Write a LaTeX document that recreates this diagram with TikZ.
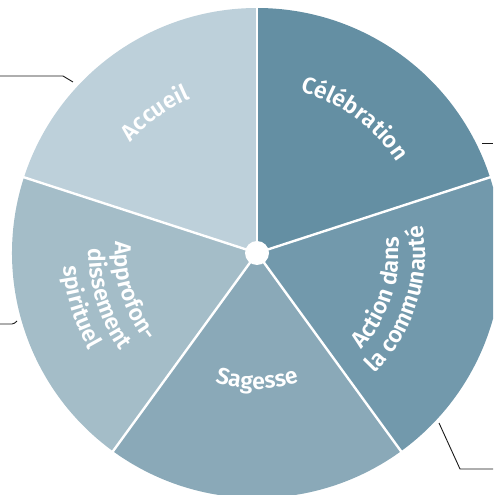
\documentclass[tikz,border=0pt]{standalone}
\usepackage{fontspec}
\setmainfont{Fira Sans}[BoldFont={Fira Sans SemiBold}]
\usetikzlibrary{decorations.text}
\definecolor{cAcc}{HTML}{BDD0DA}
\definecolor{cCel}{HTML}{648FA3}
\definecolor{cAct}{HTML}{7299AC}
\definecolor{cSag}{HTML}{8AA9B8}
\definecolor{cApp}{HTML}{A4BDC8}
\definecolor{leader}{HTML}{1A1A1A}
\newcommand\lblfont{\fontsize{23}{27}\selectfont\bfseries\color{white}}
\newcommand\arclabel[4]{%
  \path[decorate,decoration={text along path,text align=center,text={|\lblfont|#4}}]
    ([shift={(C)}]#1:#3) arc[start angle=#1,end angle=#2,radius=#3];}
\begin{document}
\begin{tikzpicture}[x=1pt,y=1pt,
  sep/.style={draw=white,line width=2.4pt},
  leaderline/.style={draw=leader,line width=0.9pt}]
\useasboundingbox (0,0) rectangle (493,495);
\clip (0,0) rectangle (493,495);
\coordinate (C) at (257,242);
\def\R{245}
% slices
\fill[cAcc] (C) -- ([shift={(C)}]90:\R) arc[start angle=90,end angle=162,radius=\R] -- cycle;
\fill[cApp] (C) -- ([shift={(C)}]162:\R) arc[start angle=162,end angle=234,radius=\R] -- cycle;
\fill[cSag] (C) -- ([shift={(C)}]234:\R) arc[start angle=234,end angle=306,radius=\R] -- cycle;
\fill[cAct] (C) -- ([shift={(C)}]306:\R) arc[start angle=306,end angle=378,radius=\R] -- cycle;
\fill[cCel] (C) -- ([shift={(C)}]18:\R) arc[start angle=18,end angle=90,radius=\R] -- cycle;
% separators
\foreach \a in {18,90,162,234,306}
  \draw[sep] (C) -- ([shift={(C)}]\a:\R+3);
\fill[white] (C) circle (12);
% labels
\arclabel{166}{86}{168}{Accueil}
\arclabel{94}{14}{167}{Célébration}
\arclabel{234}{306}{136}{Sagesse}
\arclabel{302}{382}{142}{Action dans}
\arclabel{302}{382}{168}{la communauté}
\arclabel{158}{236}{142}{Approfon-}
\arclabel{158}{236}{168}{dissement}
\arclabel{158}{236}{194}{spirituel}
% leader lines
\coordinate (l1a) at (0,419);
\coordinate (l1b) at (63,419);
\coordinate (l1c) at (73,413);
\draw[leaderline] (l1a) -- (l1b) -- (l1c);
\coordinate (l2a) at (482,352);
\coordinate (l2b) at (493,352);
\draw[leaderline] (l2a) -- (l2b);
\coordinate (l3a) at (0,171);
\coordinate (l3b) at (12,171);
\coordinate (l3c) at (17,174);
\draw[leaderline] (l3a) -- (l3b) to[out=0,in=220] (l3c);
\coordinate (l4a) at (439,72);
\coordinate (l4b) at (460,26);
\coordinate (l4c) at (493,26);
\draw[leaderline] (l4a) -- (l4b) -- (l4c);
\end{tikzpicture}
\end{document}
